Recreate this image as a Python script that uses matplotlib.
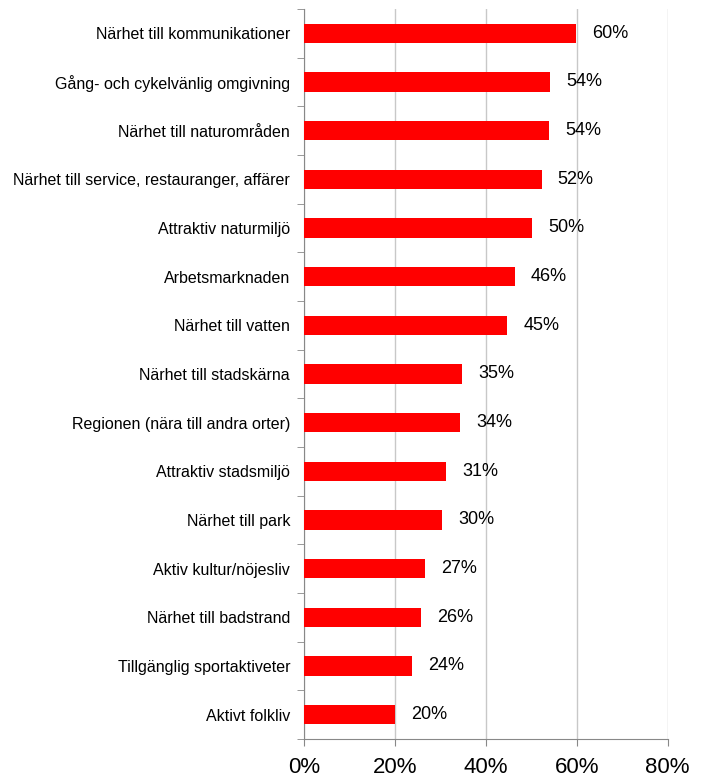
import matplotlib
matplotlib.use("Agg")
import matplotlib.pyplot as plt
import numpy as np

plt.rcParams["font.family"] = ["Liberation Sans", "DejaVu Sans"]

categories = [
    "Närhet till kommunikationer",
    "Gång- och cykelvänlig omgivning",
    "Närhet till naturområden",
    "Närhet till service, restauranger, affärer",
    "Attraktiv naturmiljö",
    "Arbetsmarknaden",
    "Närhet till vatten",
    "Närhet till stadskärna",
    "Regionen (nära till andra orter)",
    "Attraktiv stadsmiljö",
    "Närhet till park",
    "Aktiv kultur/nöjesliv",
    "Närhet till badstrand",
    "Tillgänglig sportaktiveter",
    "Aktivt folkliv",
]
values = [59.9, 54.1, 53.9, 52.3, 50.2, 46.4, 44.7, 34.8, 34.4, 31.3, 30.4, 26.6, 25.7, 23.8, 20.0]
labels = ["60%", "54%", "54%", "52%", "50%", "46%", "45%", "35%", "34%", "31%",
          "30%", "27%", "26%", "24%", "20%"]
x_ticks = [0, 20, 40, 60, 80]
x_tick_labels = ["0%", "20%", "40%", "60%", "80%"]

fig = plt.figure(figsize=(7.05, 7.82), dpi=100)
ax = fig.add_axes([0.4312, 0.055, 0.5159, 0.9335])

y = np.arange(len(categories))
ax.barh(y, values, height=0.4, color="#ff0000", zorder=3)

# value labels a little right of each bar end
for yi, v, lab in zip(y, values, labels):
    ax.annotate(lab, (v, yi), xytext=(16, 0), textcoords="offset pixels",
                va="center", ha="left", fontsize=13, color="#000000")

ax.set_xlim(0, 80)
ax.set_ylim(len(categories) - 0.5, -0.5)

ax.set_xticks(x_ticks)
ax.set_xticklabels(x_tick_labels, fontsize=16)
ax.tick_params(axis="x", direction="out", length=5, color="#888888", pad=8)

ax.set_yticks(y)
ax.set_yticklabels(categories, fontsize=11.5)
ax.tick_params(axis="y", which="major", length=0, pad=10)
ax.set_yticks(np.arange(-0.5, len(categories), 1), minor=True)
ax.tick_params(axis="y", which="minor", direction="out", length=5, color="#888888")

ax.grid(axis="x", color="#c8c8c8", linewidth=1, zorder=0)
ax.set_axisbelow(True)

for side in ["top", "right"]:
    ax.spines[side].set_visible(False)
for side in ["left", "bottom"]:
    ax.spines[side].set_color("#888888")

fig.savefig("out.png", dpi=100)
